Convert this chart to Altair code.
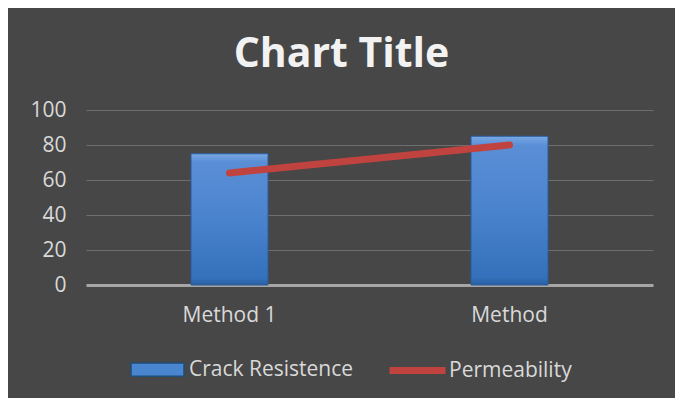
import altair as alt
import pandas as pd

categories = ["Method 1", "Method"]
crack_resistence = [75, 85]
permeability = [64, 80]
y_ticks = [0, 20, 40, 60, 80, 100]

df = pd.DataFrame({
    "cat": categories,
    "crack": crack_resistence,
    "perm": permeability,
    "s1": ["Crack Resistence"] * 2,
    "s2": ["Permeability"] * 2,
})

FONT = "Open Sans"
LBL = 21

x = alt.X("cat:N", sort=categories, title=None,
          scale=alt.Scale(paddingInner=0.725, paddingOuter=0.375),
          axis=alt.Axis(labelAngle=0, labelFontSize=LBL, labelColor="#d9d9d9", labelFont=FONT,
                        labelPadding=19, ticks=False, domainColor="#a6a6a6", domainWidth=3,
                        grid=False))
y_axis = alt.Axis(values=y_ticks, labelFontSize=LBL, labelColor="#d9d9d9",
                  labelFont=FONT, labelPadding=20, ticks=False, domain=False,
                  labelOverlap=False, labelFlush=False, tickCount=6,
                  gridColor="#6e6e6e", gridWidth=1)
y_scale = alt.Scale(domain=[0, 100], nice=False)

base = alt.Chart(df)

bar_legend = base.mark_bar(size=77).encode(
    x=x,
    y=alt.Y("crack:Q", scale=y_scale, axis=y_axis, title=None),
    fill=alt.Fill("s1:N", scale=alt.Scale(range=["#4a86cf"]), title=None,
                  legend=alt.Legend(orient="none", legendX=44, legendY=232,
                                    symbolType="M-1,-0.25H1V0.25H-1Z", symbolSize=2809,
                                    symbolStrokeColor="#1f4e79", symbolStrokeWidth=1.5,
                                    labelFontSize=LBL, labelColor="#d9d9d9", labelFont=FONT,
                                    labelOffset=4, labelLimit=400)),
)

bar_grad = base.mark_bar(
    size=77,
    stroke="#2a5d9c", strokeWidth=1,
    color=alt.Gradient(gradient="linear", x1=0, x2=0, y1=0, y2=1,
                       stops=[alt.GradientStop(offset=0, color="#7aa8e4"),
                              alt.GradientStop(offset=0.06, color="#5a8fd6"),
                              alt.GradientStop(offset=0.5, color="#4a83cd"),
                              alt.GradientStop(offset=0.95, color="#3470bb"),
                              alt.GradientStop(offset=1, color="#285f9f")]),
).encode(
    x=x,
    y=alt.Y("crack:Q", scale=y_scale, axis=y_axis, title=None),
)

line = base.mark_line(strokeWidth=7, strokeCap="round").encode(
    x=x,
    y=alt.Y("perm:Q", scale=y_scale, axis=y_axis, title=None),
    stroke=alt.Stroke("s2:N", scale=alt.Scale(range=["#c0433f"]), title=None,
                      legend=alt.Legend(orient="none", legendX=300, legendY=229,
                                        symbolType="stroke", symbolSize=3136,
                                        symbolStrokeWidth=7,
                                        labelFontSize=LBL, labelColor="#d9d9d9", labelFont=FONT,
                                        labelOffset=0, labelLimit=400)),
)

chart = alt.layer(bar_legend, bar_grad, line).properties(
    width=567, height=175,
    background="#474747",
    padding={"left": 78, "top": 102, "right": 22, "bottom": 113},
    autosize=alt.AutoSizeParams(type="none"),
    title=alt.TitleParams("Chart Title", fontSize=41, font=FONT, fontWeight="bold",
                          color="#f2f2f2", anchor="middle", dx=-28, offset=23),
).configure_view(stroke=None).configure_title(limit=600)

chart.save("out.html", embed_options={"renderer": "svg", "actions": False})
